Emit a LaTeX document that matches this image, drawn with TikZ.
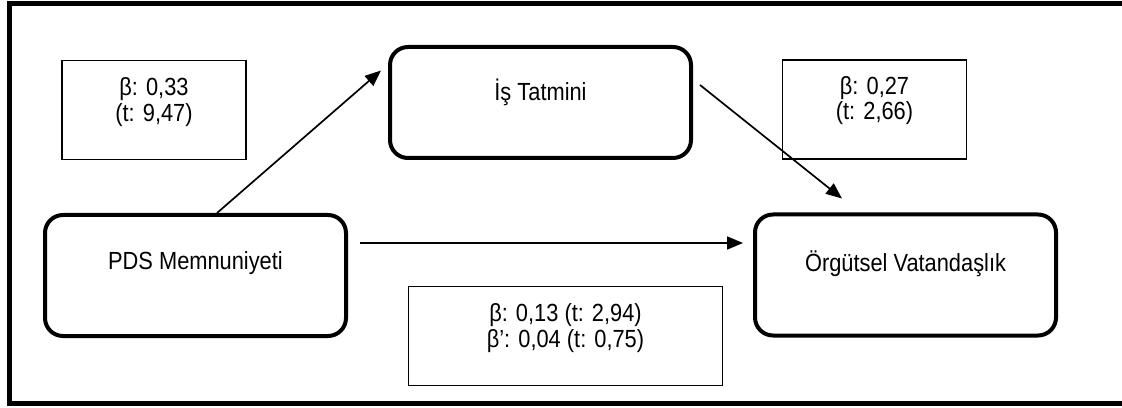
\documentclass[tikz,border=0pt]{standalone}
\usepackage{fontspec}
\setmainfont{Liberation Sans}[FakeStretch=0.88]
\usetikzlibrary{arrows.meta}

\begin{document}
\begin{tikzpicture}[x=0.5pt,y=0.5pt,
    font=\fontsize{12.4}{12.6}\selectfont,
    varbox/.style={draw, line width=2pt, rounded corners=9pt,
      minimum width=150.5pt, minimum height=60.5pt},
    coefbox/.style={draw, line width=0.6pt, minimum width=92pt, minimum height=49.5pt},
    txt/.style={align=center},
    effect/.style={-{Triangle[length=8pt,width=6.5pt]}, line width=0.85pt}]

    \useasboundingbox (0,0) rectangle (1122,407);

    %outer frame (open on the right)
    \draw[line width=2.5pt] (1135,403.5) -- (9.5,403.5) -- (9.5,4) -- (1135,4);

    %variables
    \node[varbox, label={[txt,yshift=6pt]center:{PDS Memnuniyeti}}] (pds) at (195.5,131.5) {};
    \node[varbox, minimum height=55.5pt, label={[txt,yshift=5pt]center:{İş Tatmini}}] (is) at (540.5,304.5) {};
    \node[varbox, label={[txt,yshift=5.5pt]center:{Örgütsel Vatandaşlık}}] (org) at (905.5,132) {};

    %coefficients
    \node[coefbox, label={[txt,yshift=4pt]center:{β: 0,33\\(t: 9,47)}}] (b1) at (154,297) {};
    \node[coefbox, label={[txt,yshift=4.5pt]center:{β: 0,27\\(t: 2,66)}}] (b2) at (874.5,297.5) {};
    \node[coefbox, minimum width=157pt, label={[txt,yshift=4pt]center:{β: 0,13 (t: 2,94)\\β’: 0,04 (t: 0,75)}}] (b3) at (565.5,71) {};

    %paths
    \draw[effect] ([xshift=10.75pt]pds.north) -- ([xshift=-3.5pt,yshift=16pt]is.west);
    \draw[effect] ([xshift=3.5pt,yshift=8.75pt]is.east) -- ([xshift=-31.75pt,yshift=7pt]org.north);
    \draw[effect] ([xshift=6pt,yshift=16.25pt]pds.east) -- ([xshift=-5pt,yshift=16pt]org.west);

\end{tikzpicture}
\end{document}
